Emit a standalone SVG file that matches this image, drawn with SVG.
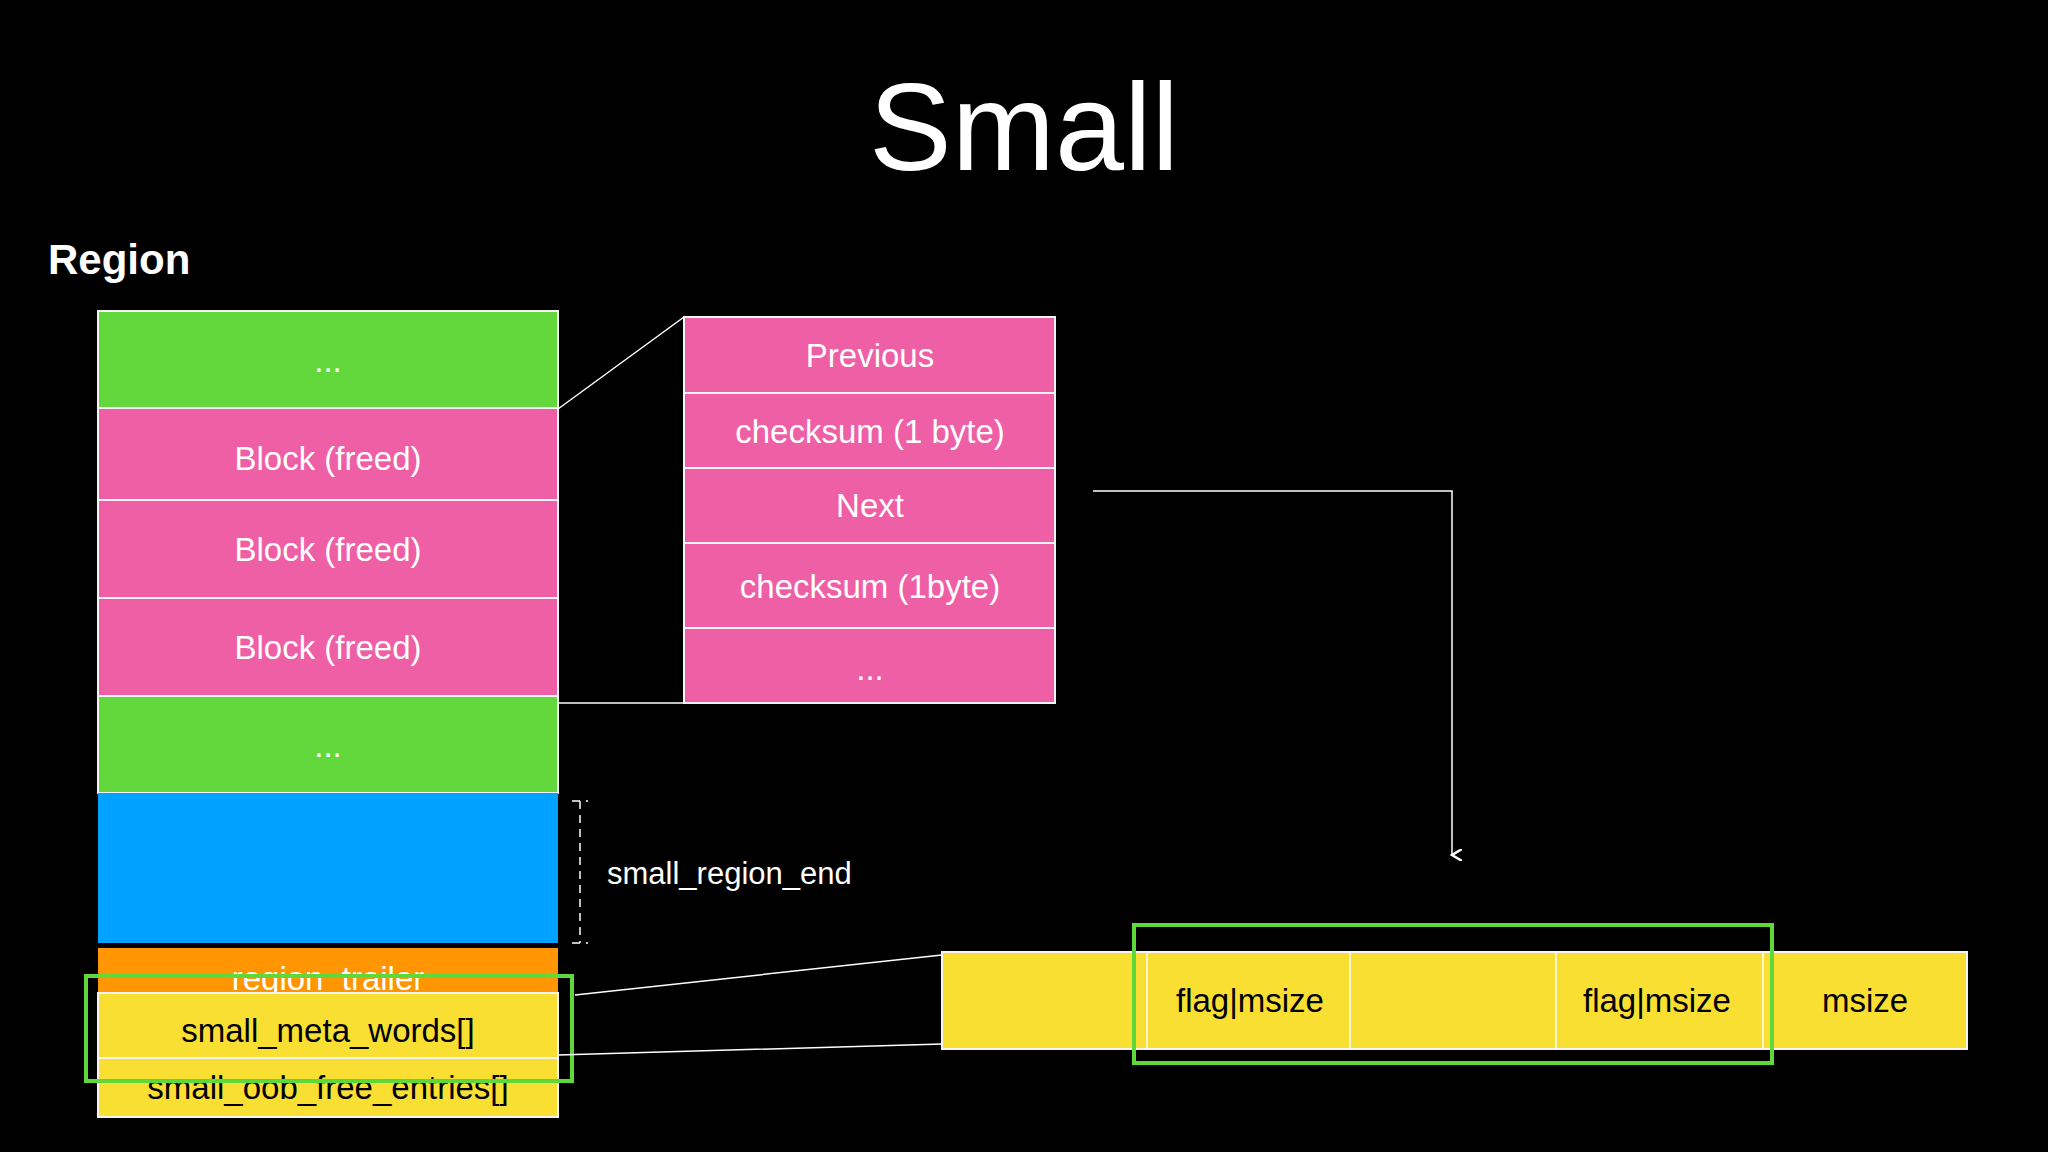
<svg xmlns="http://www.w3.org/2000/svg" width="2048" height="1152" viewBox="0 0 2048 1152">
<defs>
<style>
.t{font-family:"Helvetica Neue","Liberation Sans",Arial,sans-serif}
.w{fill:#fff;font-size:33px;text-anchor:middle}
.b{fill:#000;font-size:33px;text-anchor:middle}
.box{stroke:#f4f4f4;stroke-width:2}
.g{fill:#62d83c}.p{fill:#ee5fa6}.bl{fill:#00a2ff}.o{fill:#ff9500}.y{fill:#f9df32}
.ln{stroke:#fff;stroke-width:1.5;fill:none}
.hl{stroke:#5fd83a;stroke-width:4;fill:none}
</style>
<marker id="ah" markerWidth="12" markerHeight="12" refX="6" refY="10" orient="auto" markerUnits="userSpaceOnUse" viewBox="0 0 12 12"><path d="M0,0 L6,10 L12,0" fill="none" stroke="#fff" stroke-width="2.5"/></marker>
</defs>
<rect width="2048" height="1152" fill="#000"/>
<text class="t" x="1024" y="170" fill="#fff" font-size="124" text-anchor="middle" font-weight="500">Small</text>
<text class="t" x="48" y="274" fill="#fff" font-size="42" font-weight="bold">Region</text>
<g id="region">
<rect class="box g" x="98" y="311" width="460" height="97"/>
<text class="t w" x="328" y="372">...</text>
<rect class="box p" x="98" y="408" width="460" height="92"/>
<text class="t w" x="328" y="470">Block (freed)</text>
<rect class="box p" x="98" y="500" width="460" height="98"/>
<text class="t w" x="328" y="561">Block (freed)</text>
<rect class="box p" x="98" y="598" width="460" height="98"/>
<text class="t w" x="328" y="659">Block (freed)</text>
<rect class="box g" x="98" y="696" width="460" height="97"/>
<text class="t w" x="328" y="757">...</text>
<rect class="bl" x="98" y="793" width="460" height="150"/>
<rect class="o" x="98" y="948" width="460" height="45"/>
<text class="t w" x="328" y="990">region_trailer</text>
<rect class="box y" x="98" y="993" width="460" height="65"/>
<text class="t b" x="328" y="1042">small_meta_words[]</text>
<rect class="box y" x="98" y="1058" width="460" height="59"/>
<text class="t b" x="328" y="1099">small_oob_free_entries[]</text>
<rect class="hl" x="86" y="976" width="486" height="105"/>
</g>
<g id="detail">
<rect class="box p" x="684" y="317" width="371" height="76"/>
<text class="t w" x="870" y="367">Previous</text>
<rect class="box p" x="684" y="393" width="371" height="75"/>
<text class="t w" x="870" y="443">checksum (1 byte)</text>
<rect class="box p" x="684" y="468" width="371" height="75"/>
<text class="t w" x="870" y="517">Next</text>
<rect class="box p" x="684" y="543" width="371" height="85"/>
<text class="t w" x="870" y="598">checksum (1byte)</text>
<rect class="box p" x="684" y="628" width="371" height="75"/>
<text class="t w" x="870" y="680">...</text>
</g>
<g id="bar">
<rect class="box y" x="942" y="952" width="1025" height="97"/>
<path class="ln" d="M1147,952V1049M1350,952V1049M1556,952V1049M1763,952V1049" stroke="#eee"/>
<text class="t b" x="1250" y="1012">flag|msize</text>
<text class="t b" x="1657" y="1012">flag|msize</text>
<text class="t b" x="1865" y="1012">msize</text>
<rect class="hl" x="1134" y="925" width="638" height="138"/>
</g>
<g id="label">
<path class="ln" d="M580,801V943M572,801H588M572,943H588" stroke-dasharray="8,6" stroke-width="3"/>
<text class="t" x="607" y="884" fill="#fff" font-size="31" font-weight="500">small_region_end</text>
</g>
<g id="connectors">
<path class="ln" d="M558,409L684,317M558,703H684"/>
<path class="ln" d="M575,995L942,955M558,1055L942,1044"/>
<path class="ln" d="M1093,491H1452V855" stroke-width="3" marker-end="url(#ah)"/>
</g>
</svg>
